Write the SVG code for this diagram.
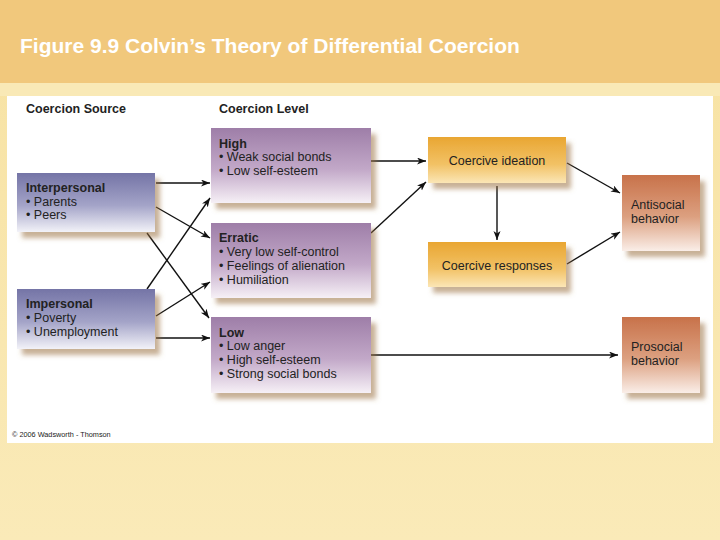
<svg xmlns="http://www.w3.org/2000/svg" width="720" height="540" viewBox="0 0 720 540">
<style>
.t{font-family:"Liberation Sans",Arial,sans-serif;font-size:12.5px;fill:#222}
.b{font-weight:bold}
.conn line{stroke:#111;stroke-width:1.4;marker-end:url(#ah)}
</style>
<defs>
<linearGradient id="bg" x1="0" y1="0" x2="0" y2="1"><stop offset="0" stop-color="#f7e2a2"/><stop offset="1" stop-color="#faeab8"/></linearGradient>
<linearGradient id="gSrc" x1="0" y1="0" x2="0" y2="1"><stop offset="0" stop-color="#7474a6"/><stop offset="0.55" stop-color="#a4a4c8"/><stop offset="1" stop-color="#f2f2f8"/></linearGradient>
<linearGradient id="gLvl" x1="0" y1="0" x2="0" y2="1"><stop offset="0" stop-color="#9e7ea8"/><stop offset="0.55" stop-color="#c2a8c8"/><stop offset="1" stop-color="#f6f0f6"/></linearGradient>
<linearGradient id="gOr" x1="0" y1="0" x2="0" y2="1"><stop offset="0" stop-color="#e9a632"/><stop offset="0.6" stop-color="#f2c266"/><stop offset="1" stop-color="#fbe6b6"/></linearGradient>
<linearGradient id="gBeh" x1="0" y1="0" x2="0" y2="1"><stop offset="0" stop-color="#c8724a"/><stop offset="0.55" stop-color="#dca080"/><stop offset="1" stop-color="#faeee8"/></linearGradient>
<filter id="sh" x="-10%" y="-10%" width="130%" height="140%">
<feGaussianBlur in="SourceAlpha" stdDeviation="2.5"/>
<feOffset dx="5" dy="6" result="o"/>
<feFlood flood-color="#9a7040" flood-opacity="0.55"/>
<feComposite in2="o" operator="in"/>
<feMerge><feMergeNode/><feMergeNode in="SourceGraphic"/></feMerge>
</filter>
<marker id="ah" markerUnits="userSpaceOnUse" markerWidth="10" markerHeight="8" refX="9" refY="3.5" orient="auto">
<path d="M0,0 L9,3.5 L0,7 L2.5,3.5 z" fill="#111"/>
</marker>
</defs>

<rect x="0" y="0" width="720" height="540" fill="url(#bg)"/>
<rect x="0" y="0" width="720" height="83" fill="#f1c87c"/>
<rect x="0" y="83" width="720" height="13" fill="#f9e9b6"/>
<text x="20" y="53" font-family="'Liberation Sans',Arial,sans-serif" font-size="21" font-weight="bold" fill="#ffffff">Figure 9.9 Colvin’s Theory of Differential Coercion</text>

<rect x="7" y="96" width="706" height="347" fill="#ffffff"/>

<text class="t b" x="26" y="113">Coercion Source</text>
<text class="t b" x="219" y="113">Coercion Level</text>

<g class="conn">
<line x1="156" y1="183" x2="210" y2="183"/>
<line x1="156" y1="207" x2="210" y2="238"/>
<line x1="147" y1="233" x2="209" y2="318"/>
<line x1="147" y1="289" x2="210" y2="198"/>
<line x1="156" y1="316" x2="210" y2="282"/>
<line x1="156" y1="338" x2="210" y2="338"/>
<line x1="371" y1="161" x2="426" y2="161"/>
<line x1="371" y1="233" x2="426" y2="182"/>
<line x1="497" y1="186" x2="497" y2="240"/>
<line x1="567" y1="163" x2="620" y2="193"/>
<line x1="567" y1="264" x2="620" y2="232"/>
<line x1="371" y1="355" x2="618" y2="355"/>
</g>

<g id="interpersonal">
<rect x="17" y="173" width="138" height="59" fill="url(#gSrc)" filter="url(#sh)"/>
<text class="t b" x="26" y="192">Interpersonal</text>
<text class="t" x="26" y="206">• Parents</text>
<text class="t" x="26" y="219">• Peers</text>
</g>

<g id="impersonal">
<rect x="17" y="289" width="138" height="60" fill="url(#gSrc)" filter="url(#sh)"/>
<text class="t b" x="26" y="308">Impersonal</text>
<text class="t" x="26" y="322">• Poverty</text>
<text class="t" x="26" y="336">• Unemployment</text>
</g>

<g id="high">
<rect x="211" y="128" width="160" height="75" fill="url(#gLvl)" filter="url(#sh)"/>
<text class="t b" x="219" y="148">High</text>
<text class="t" x="219" y="161">• Weak social bonds</text>
<text class="t" x="219" y="175">• Low self-esteem</text>
</g>

<g id="erratic">
<rect x="211" y="223" width="160" height="75" fill="url(#gLvl)" filter="url(#sh)"/>
<text class="t b" x="219" y="242">Erratic</text>
<text class="t" x="219" y="256">• Very low self-control</text>
<text class="t" x="219" y="270">• Feelings of alienation</text>
<text class="t" x="219" y="284">• Humiliation</text>
</g>

<g id="low">
<rect x="211" y="317" width="160" height="76" fill="url(#gLvl)" filter="url(#sh)"/>
<text class="t b" x="219" y="337">Low</text>
<text class="t" x="219" y="350">• Low anger</text>
<text class="t" x="219" y="364">• High self-esteem</text>
<text class="t" x="219" y="378">• Strong social bonds</text>
</g>

<g id="ideation">
<rect x="428" y="137" width="138" height="46" fill="url(#gOr)" filter="url(#sh)"/>
<text class="t" x="497" y="165" text-anchor="middle">Coercive ideation</text>
</g>

<g id="responses">
<rect x="428" y="242" width="138" height="45" fill="url(#gOr)" filter="url(#sh)"/>
<text class="t" x="497" y="270" text-anchor="middle">Coercive responses</text>
</g>

<g id="antisocial">
<rect x="622" y="175" width="78" height="76" fill="url(#gBeh)" filter="url(#sh)"/>
<text class="t" x="631" y="209">Antisocial</text>
<text class="t" x="631" y="223">behavior</text>
</g>

<g id="prosocial">
<rect x="622" y="317" width="78" height="76" fill="url(#gBeh)" filter="url(#sh)"/>
<text class="t" x="631" y="351">Prosocial</text>
<text class="t" x="631" y="365">behavior</text>
</g>

<text x="12" y="437" font-family="'Liberation Sans',Arial,sans-serif" font-size="7.3" fill="#222">© 2006 Wadsworth - Thomson</text>
</svg>
